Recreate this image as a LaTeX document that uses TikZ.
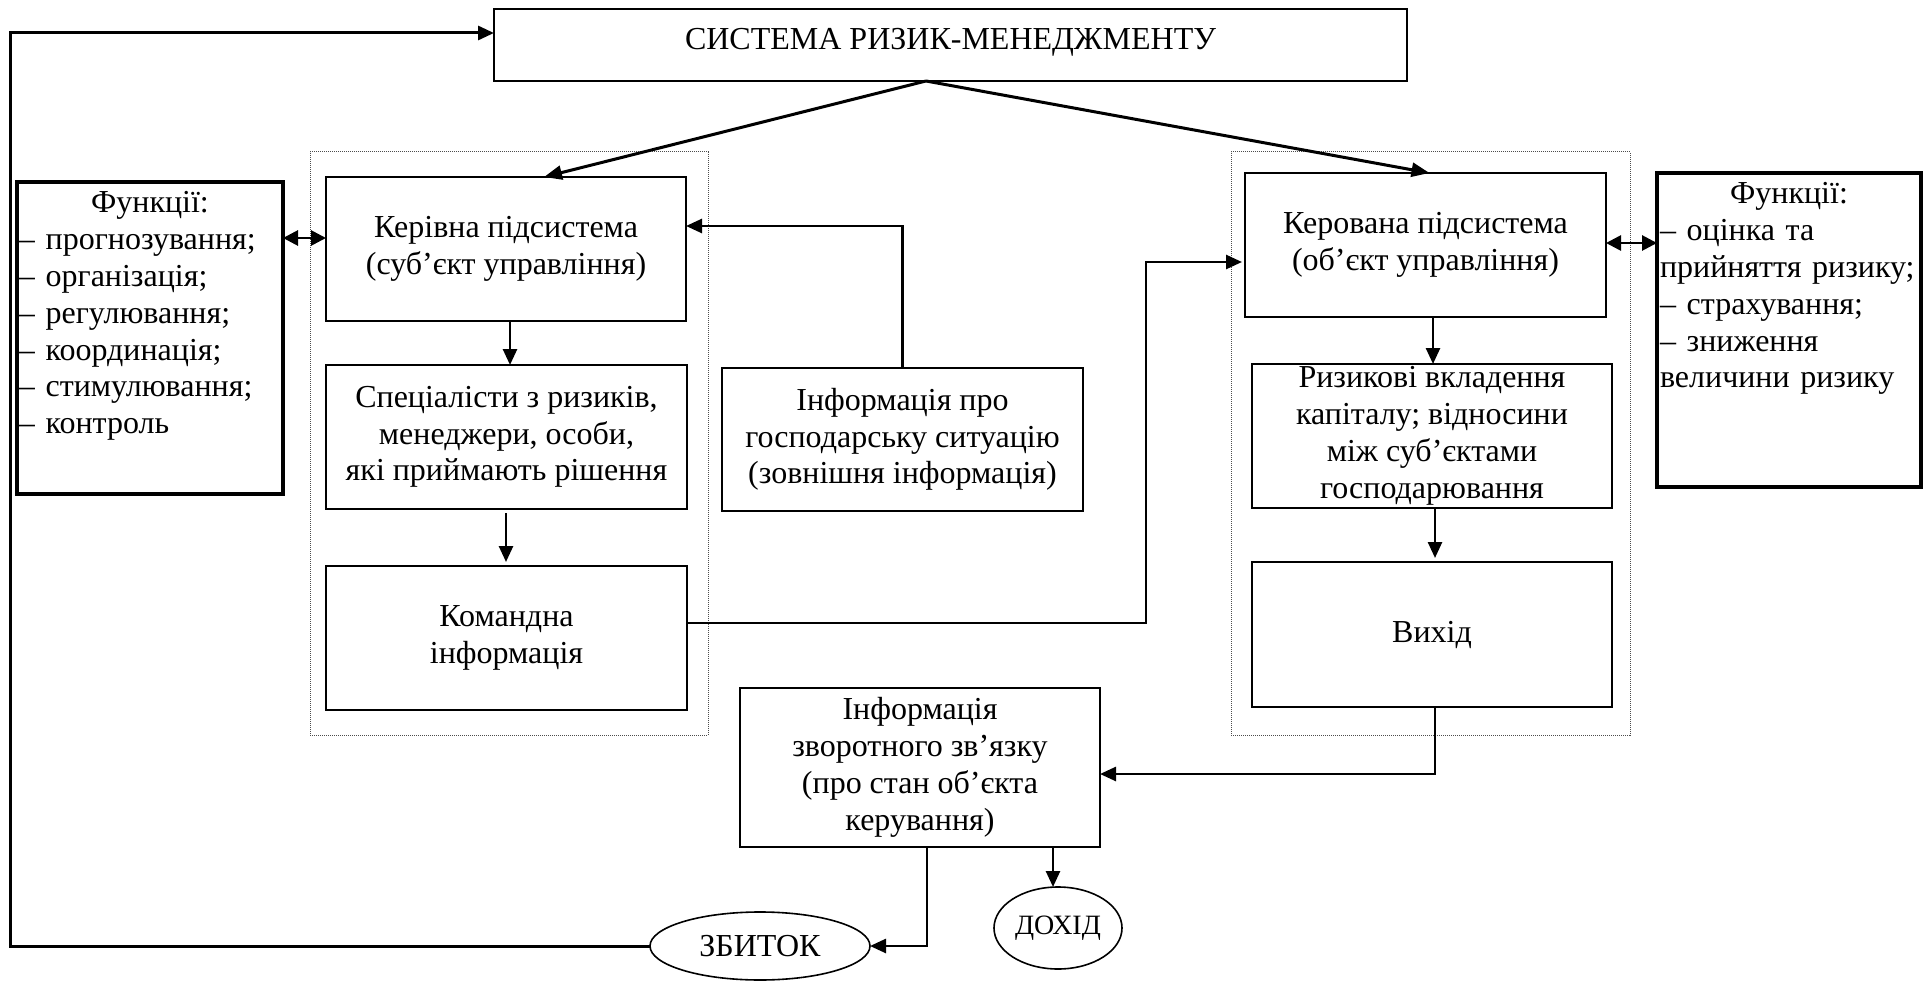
\documentclass[tikz,border=0pt]{standalone}
\usepackage{fontspec}
\setmainfont{Liberation Serif}
\usetikzlibrary{arrows.meta,calc,shapes.geometric}

\begin{document}
\begin{tikzpicture}[x=1pt,y=-1pt,
  every node/.style={font=\fontsize{32}{36.8}\selectfont, inner sep=0pt, outer sep=0pt},
  box/.style={draw, line width=2.4pt, align=center},
  fbox/.style={draw, line width=4.2pt},
  flist/.style={align=left},
  grp/.style={draw=black!70, densely dotted, line width=1pt},
  oval/.style={draw, ellipse, line width=1.6pt},
  conn/.style={line width=2.6pt, line join=miter, -{Triangle[length=16pt,width=14pt]}},
  diag/.style={line width=3pt, -{Triangle[length=18pt,width=14pt]}},
  dbl/.style={line width=2.8pt, {Triangle[length=15pt,width=15pt]}-{Triangle[length=15pt,width=15pt]}}]

\useasboundingbox (0,0) rectangle (1925,984);

% dotted frames of the two subsystems
\node[grp, minimum width=398, minimum height=583] (grpL) at (509,443.5) {};
\node[grp, minimum width=399, minimum height=583] (grpR) at (1430.5,443.5) {};

% system box
\node[box, minimum width=913, minimum height=72] (sys) at (950.5,45) {};
\node[anchor=base] (systext) at (950.5,50) {СИСТЕМА РИЗИК-МЕНЕДЖМЕНТУ};

% functions
\node[fbox, minimum width=266, minimum height=312] (fl) at (150,338) {};
\node[flist, anchor=base west, text width=262] (fltext) at (19,213)
  {\makebox[\linewidth]{Функції:}\\– прогнозування;\\– організація;\\– регулювання;\\– координація;\\– стимулювання;\\– контроль};
\node[fbox, minimum width=264, minimum height=314] (fr) at (1789,330) {};
\node[flist, anchor=base west, text width=258] (frtext) at (1660,204)
  {\makebox[\linewidth]{Функції:}\\– оцінка та\\прийняття ризику;\\– страхування;\\– зниження\\величини ризику};

% managing subsystem
\node[box, minimum width=360, minimum height=144] (ker) at (506,249) {Керівна підсистема\\(суб’єкт управління)};
\node[box, minimum width=361, minimum height=144] (spec) at (506.5,437) {Спеціалісти з ризиків,\\менеджери, особи,\\які приймають рішення};
\node[box, minimum width=361, minimum height=144] (kom) at (506.5,638) {Командна\\інформація};
\node[box, minimum width=361, minimum height=143] (info) at (902.5,439.5) {Інформація про\\господарську ситуацію\\(зовнішня інформація)};

% managed subsystem
\node[box, minimum width=361, minimum height=144] (kov) at (1425.5,245) {Керована підсистема\\(об’єкт управління)};
\node[box, minimum width=360, minimum height=144] (riz) at (1432,436) {Ризикові вкладення\\капіталу; відносини\\між суб’єктами\\господарювання};
\node[box, minimum width=360, minimum height=145] (vyh) at (1432,634.5) {Вихід};

% feedback and results
\node[box, minimum width=360, minimum height=159] (zvor) at (920,767.5) {Інформація\\зворотного зв’язку\\(про стан об’єкта\\керування)};
\node[oval, minimum width=220, minimum height=68] (zb) at (760,946) {ЗБИТОК};
\node[oval, minimum width=128, minimum height=82, font=\fontsize{28}{32}\selectfont] (doh) at (1058,928) {ДОХІД};

% connectors
\draw[diag] ($(sys.south)+(-24.5,0)$) -- ($(ker.north)+(38,0)$);
\draw[diag] ($(sys.south)+(-24.5,0)$) -- ($(kov.north)+(4,0)$);
\draw[dbl] (fl.east |- 0,238) -- (ker.west |- 0,238);
\draw[dbl] (kov.east |- 0,243) -- (fr.west |- 0,243);
\draw[conn] (ker.south -| 510,0) -- (spec.north -| 510,0);
\draw[conn, shorten <=4pt, shorten >=4pt] (spec.south -| 506,0) -- (kom.north -| 506,0);
\draw[conn] (info.north) |- (ker.east |- 0,226);
\draw[conn, shorten >=3pt] (kom.east |- 0,623) -| (1146,262) -- (kov.west |- 0,262);
\draw[conn] (kov.south -| 1433,0) -- (riz.north -| 1433,0);
\draw[conn, shorten >=4pt] (riz.south -| 1435,0) -- (vyh.north -| 1435,0);
\draw[conn] (vyh.south -| 1435,0) |- (zvor.east |- 0,774);
\draw[conn] (zvor.south -| 1053,0) -- (doh.north -| 1053,0);
\draw[conn] (zvor.south -| 927,0) |- (zb.east);
\draw[conn, line width=3pt] (zb.west) -| (10,33) -- (sys.west |- 0,33);

\end{tikzpicture}
\end{document}
